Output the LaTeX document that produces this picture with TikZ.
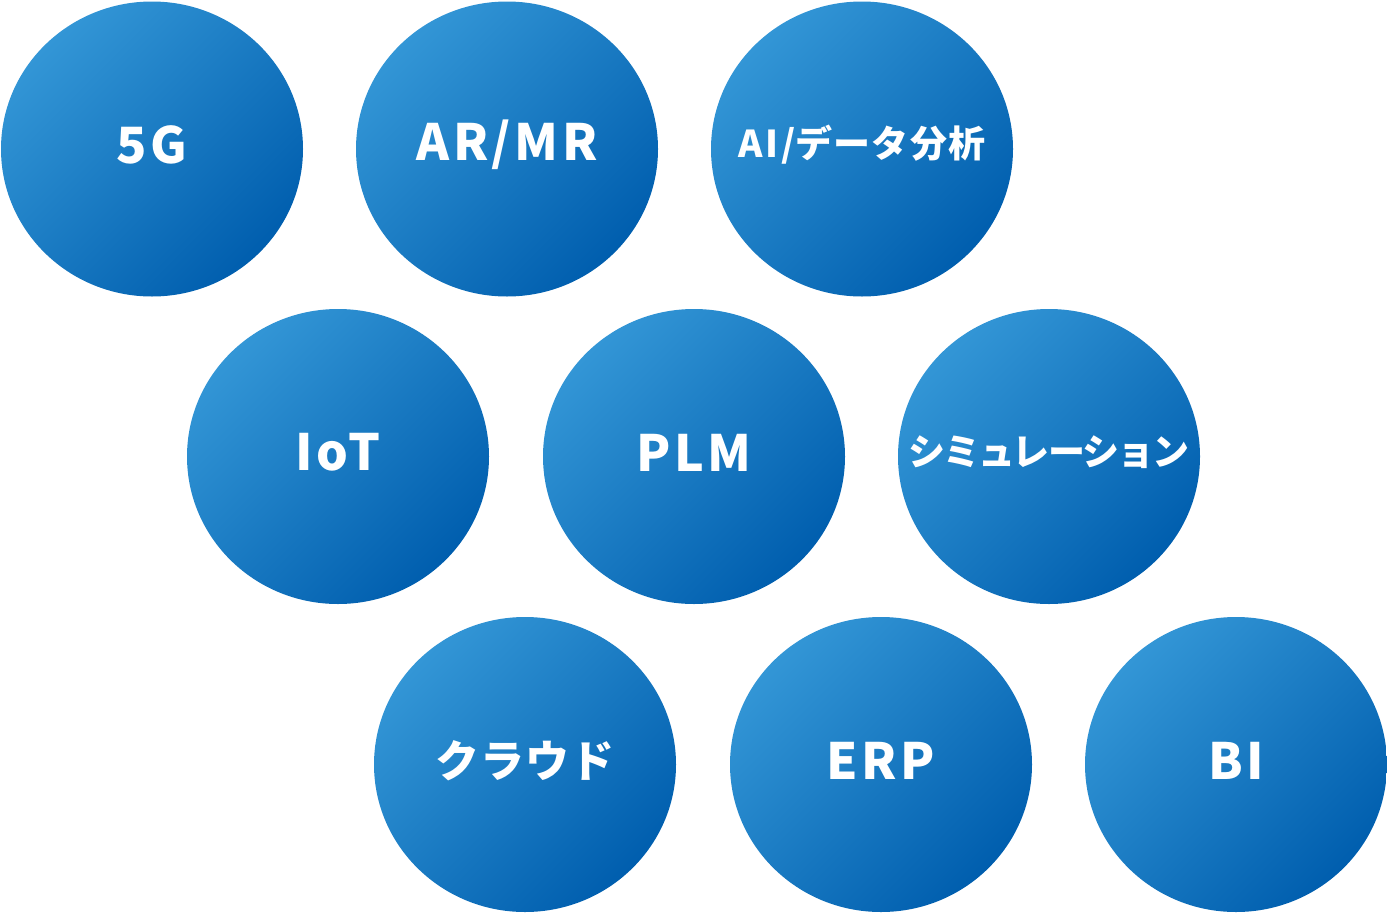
\documentclass[tikz,border=0pt]{standalone}
\usepackage{fontspec}
\newfontfamily\jp{Noto Sans CJK JP}[LetterSpace=3]
\newfontfamily\jpt{Noto Sans CJK JP}[LetterSpace=-5]
\newfontfamily\lat{Noto Sans CJK JP}[LetterSpace=7]
\usetikzlibrary{shapes.geometric}
\definecolor{cLight}{HTML}{3396D6}
\definecolor{cDark}{HTML}{005EAE}
\tikzset{
  bubble/.style={ellipse, minimum width=302pt, minimum height=295pt, inner sep=0pt,
    top color=cLight, bottom color=cDark, shading angle=45, draw=none},
  lbl/.style={text=white, inner sep=0pt, anchor=center, yshift=4pt},
  big/.style={lbl, font=\lat\bfseries\fontsize{50}{54}\selectfont},
  mid/.style={lbl, font=\jp\bfseries\fontsize{44}{48}\selectfont},
  small/.style={lbl, font=\jp\bfseries\fontsize{37}{40}\selectfont},
  tight/.style={lbl, font=\jpt\bfseries\fontsize{37}{40}\selectfont}
}
\begin{document}
\begin{tikzpicture}[x=1pt,y=-1pt]
\useasboundingbox (0,0) rectangle (1387,913);
\node[bubble] (b5g) at (152,149) {};
\node[bubble] (bar) at (507,149) {};
\node[bubble] (bai) at (862,149) {};
\node[bubble] (biot) at (338,456.5) {};
\node[bubble] (bplm) at (694,456.5) {};
\node[bubble] (bsim) at (1049,456.5) {};
\node[bubble] (bcl) at (525,764.5) {};
\node[bubble] (berp) at (881,764.5) {};
\node[bubble] (bbi) at (1236,764.5) {};
\node[big] (t5g) at (b5g) {5G};
\node[big] (tar) at (bar) {AR/MR};
\node[small] (tai) at (bai) {{\lat AI/}データ分析};
\node[big] (tiot) at (biot) {IoT};
\node[big] (tplm) at (bplm) {PLM};
\node[tight] (tsim) at (bsim) {シミュレーション};
\node[mid] (tcl) at (bcl) {クラウド};
\node[big] (terp) at (berp) {ERP};
\node[big] (tbi) at (bbi) {BI};
\end{tikzpicture}
\end{document}
